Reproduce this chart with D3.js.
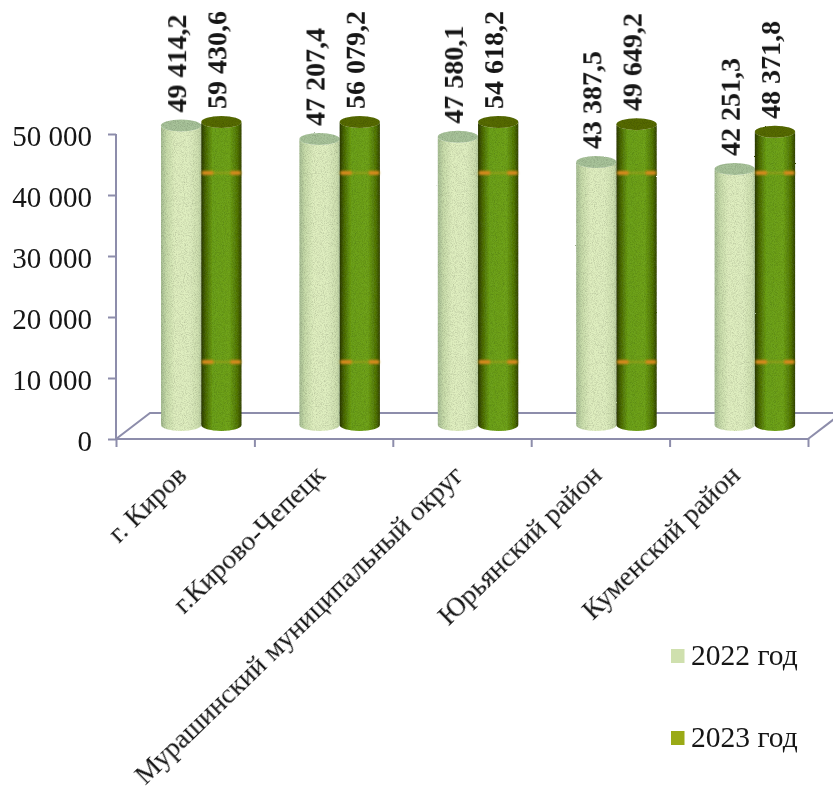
<!DOCTYPE html>
<html>
<head>
<meta charset="utf-8">
<script src="https://cdn.jsdelivr.net/npm/d3@7"></script>
<style>
html,body{margin:0;padding:0;background:#fff;}
svg{display:block;}
text{font-family:"Liberation Serif","Times New Roman",serif;fill:#141414;}
</style>
</head>
<body>
<svg id="c" width="833" height="797"></svg>
<script>
const categories = ["г. Киров","г.Кирово-Чепецк","Мурашинский муниципальный округ","Юрьянский район","Куменский район"];
const seriesNames = ["2022 год","2023 год"];
const values2022 = [49414.2,47207.4,47580.1,43387.5,42251.3];
const values2023 = [59430.6,56079.2,54618.2,49649.2,48371.8];
const labels2022 = ["49 414,2","47 207,4","47 580,1","43 387,5","42 251,3"];
const labels2023 = ["59 430,6","56 079,2","54 618,2","49 649,2","48 371,8"];
const yTicks = [0,10000,20000,30000,40000,50000];
const yTickLabels = ["0","10 000","20 000","30 000","40 000","50 000"];
const markLevels = [41600,10400];
const axisMax = 50000;

const W=833,H=797;
const svg=d3.select("#c");
const axisColor="#8d8dab";

// scales
const x=d3.scaleBand().domain(categories).range([116,808]);
const xEdge=d3.scaleLinear().domain([0,categories.length]).range([116,808]);
const y=d3.scaleLinear().domain([0,axisMax]).range([439,134]);
// cylinders stand on the chart's floor, further back than the axis plane
const yBar=d3.scaleLinear().domain([0,axisMax]).range([425,122]).clamp(true);
const xInner=d3.scaleBand().domain(seriesNames).range([45,125.5]);
const barW=xInner.bandwidth();
const ry=6;

const defs=svg.append("defs");
function grad(id,stops){
  const g=defs.append("linearGradient").attr("id",id).attr("x1","0").attr("x2","1").attr("y1","0").attr("y2","0");
  stops.forEach(s=>g.append("stop").attr("offset",s[0]).attr("stop-color",s[1]));
}
grad("gLight",[[0,"#a6bd92"],[.14,"#c8dcaa"],[.35,"#dfeebf"],[.7,"#dfeec0"],[.92,"#cfe0b0"],[1,"#b8cc9f"]]);
grad("gDark",[[0,"#2d3a02"],[.1,"#4a680c"],[.28,"#6ca01a"],[.7,"#6fa31c"],[.9,"#52760e"],[1,"#36470a"]]);
const f=defs.append("filter").attr("id","grain").attr("x","-5%").attr("y","-5%").attr("width","110%").attr("height","110%");
f.append("feTurbulence").attr("type","fractalNoise").attr("baseFrequency","1.1").attr("numOctaves","2").attr("seed","4").attr("result","n");
f.append("feDisplacementMap").attr("in","SourceGraphic").attr("in2","n").attr("scale","1.5").attr("result","d");
f.append("feColorMatrix").attr("in","n").attr("type","matrix")
  .attr("values","0 0 0 0 0  0 0 0 0 0  0 0 0 0 0  0 0 0 0.7 -0.28").attr("result","a");
f.append("feComposite").attr("in","a").attr("in2","d").attr("operator","in").attr("result","s");
const m=f.append("feMerge");
m.append("feMergeNode").attr("in","d");
m.append("feMergeNode").attr("in","s");
const soft=defs.append("filter").attr("id","soft").attr("x","-5%").attr("y","-5%").attr("width","110%").attr("height","110%");
soft.append("feGaussianBlur").attr("stdDeviation","0.35");
const softer=defs.append("filter").attr("id","softer").attr("x","-20%").attr("y","-20%").attr("width","140%").attr("height","140%");
softer.append("feGaussianBlur").attr("stdDeviation","0.8");

// floor
const depthX=34, depthY=26;
const floorLine=d3.line();
const floor=svg.append("g").attr("fill","none").attr("stroke",axisColor).attr("stroke-width",2);
floor.append("path").attr("d",floorLine([[116,y(0)],[116+depthX,y(0)-depthY],[W,y(0)-depthY]]));
floor.append("path").attr("d",floorLine([[808,y(0)],[808+depthX,y(0)-depthY]]));

// axes
const gy=svg.append("g").attr("transform","translate(116,0)").call(
  d3.axisLeft(y).tickValues(yTicks).tickFormat((d,i)=>yTickLabels[i]).tickSize(8).tickPadding(16));
const gx=svg.append("g").attr("transform",`translate(0,${y(0)})`).call(
  d3.axisBottom(xEdge).tickValues(d3.range(categories.length+1)).tickFormat("").tickSize(8));
[gy,gx].forEach(g=>{
  g.selectAll("path,line").attr("stroke",axisColor).attr("stroke-width",2);
  g.select(".domain").attr("d",g===gy?`M0,${y(50000)}V${y(0)}`:`M116,0H808`);
});
gy.selectAll("text").attr("font-size",29).attr("font-family","Liberation Serif").attr("fill","#141414").attr("dy","0.38em").attr("filter","url(#soft)");

// cylinders
function cylinder(cx,top,bot){
  const r=barW/2;
  return `M${cx-r},${top}V${bot}A${r},${ry} 0 0 0 ${cx+r},${bot}V${top}A${r},${ry} 0 0 1 ${cx-r},${top}Z`;
}
const series=[
 {name:seriesNames[0],values:values2022,labels:labels2022,fill:"url(#gLight)",topFill:"#a8c39a",swatch:"#cfe0ae",swY:656},
 {name:seriesNames[1],values:values2023,labels:labels2023,fill:"url(#gDark)",topFill:"#566a04",swatch:"#9aaa14",swY:738}
];
const cxOf=(s,i)=>x(categories[i])+xInner(s.name)+barW/2;
series.forEach(s=>{
  const g=svg.append("g").attr("filter","url(#grain)");
  s.values.forEach((v,i)=>{
    const cx=cxOf(s,i);
    g.append("path").attr("d",cylinder(cx,yBar(v),yBar(0))).attr("fill",s.fill);
    g.append("ellipse").attr("cx",cx).attr("cy",yBar(v)).attr("rx",barW/2).attr("ry",ry).attr("fill",s.topFill);
  });
  if(s===series[1]){
    const mg=svg.append("g").attr("filter","url(#softer)");
    s.values.forEach((v,i)=>{
      const cx=cxOf(s,i);
      markLevels.forEach(l=>{
        mg.append("rect").attr("x",cx-barW/2).attr("width",barW).attr("y",yBar(l)-1).attr("height",2).attr("fill","#b8a21e").attr("opacity",.55);
        [[-barW/2+1,11],[barW/2-11,10]].forEach(p=>{
          mg.append("rect").attr("x",cx+p[0]).attr("width",p[1]).attr("y",yBar(l)-2).attr("height",4).attr("fill","#d98a1c");
        });
      });
    });
  }
});

// value labels
series.forEach(s=>{
  s.values.forEach((v,i)=>{
    const cx=cxOf(s,i)+5, by=yBar(v)-13;
    svg.append("text").attr("transform",`translate(${cx},${by}) rotate(-90)`)
      .attr("font-size",28).attr("font-weight","bold").attr("filter","url(#soft)")
      .text(s.labels[i]);
  });
});

// category labels
categories.forEach(c=>{
  const cx=x(c)+x.bandwidth()/2+3;
  svg.append("text").attr("transform",`translate(${cx},477) rotate(-44)`)
    .attr("text-anchor","end").attr("font-size",27.8).attr("filter","url(#soft)").text(c);
});

// legend
series.forEach(s=>{
  svg.append("rect").attr("x",671).attr("y",s.swY-7).attr("width",13.5).attr("height",14).attr("fill",s.swatch).attr("filter","url(#soft)");
  svg.append("text").attr("x",691).attr("y",s.swY+9).attr("font-size",29.5).attr("filter","url(#soft)").text(s.name);
});
</script>
</body>
</html>
